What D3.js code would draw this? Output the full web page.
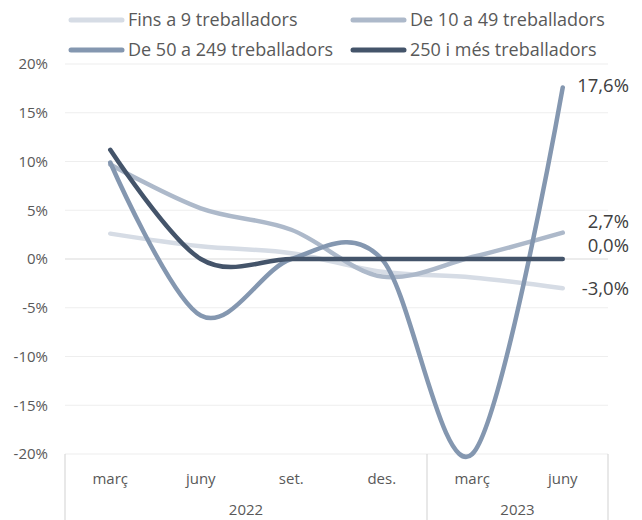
<!DOCTYPE html>
<html>
<head>
<meta charset="utf-8">
<script src="https://cdn.jsdelivr.net/npm/d3@7"></script>
<style>
  body { margin: 0; background: #fff; }
  svg text { font-family: "Open Sans", Lato, sans-serif; }
</style>
</head>
<body>
<script>
// categories and series
var months = ["març", "juny", "set.", "des.", "març", "juny"];
var years = ["2022", "2022", "2022", "2022", "2023", "2023"];
var yTicks = [-20, -15, -10, -5, 0, 5, 10, 15, 20];

var seriesNames = ["Fins a 9 treballadors", "De 10 a 49 treballadors", "De 50 a 249 treballadors", "250 i més treballadors"];
var fins9 = [2.6, 1.3, 0.6, -1.3, -1.9, -3.0];
var de10a49 = [9.7, 5.2, 3.0, -1.8, 0.2, 2.7];
var de50a249 = [9.9, -5.8, 0.0, 0.0, -20.0, 17.6];
var mes250 = [11.2, 0.0, 0.0, 0.0, 0.0, 0.0];
var colors = ["#d6dce5", "#adb9ca", "#8497b0", "#44546a"];

var series = [fins9, de10a49, de50a249, mes250];

var svgWidth = 642;
var svgHeight = 520;

var svg = d3.select("body")
    .append("svg")
    .attr("width", svgWidth)
    .attr("height", svgHeight);

// scales
var x = d3.scaleBand()
    .domain(d3.range(months.length))
    .range([65, 608]);

var y = d3.scaleLinear()
    .domain([-20, 20])
    .range([454, 64]);

// catalan style: comma decimal, plain hyphen for negatives
var locale = d3.formatLocale({decimal: ",", thousands: ".", grouping: [3], currency: ["", "€"], minus: "-"});
var fmt = d => locale.format(".1f")(d) + "%";

// gridlines
svg.append("g")
    .selectAll("line")
    .data(yTicks)
    .enter()
    .append("line")
    .attr("x1", 65)
    .attr("x2", 608)
    .attr("y1", d => y(d))
    .attr("y2", d => y(d))
    .attr("stroke", d => d === 0 ? "#d9d9d9" : "#eeeeee")
    .attr("stroke-width", 1.2);

// y tick labels
svg.append("g")
    .selectAll("text")
    .data(yTicks)
    .enter()
    .append("text")
    .attr("x", 48)
    .attr("y", d => y(d))
    .attr("dy", "0.35em")
    .attr("text-anchor", "end")
    .attr("font-size", "15px")
    .attr("fill", "#595959")
    .text(d => d + "%");

// category box: vertical separators
var seps = [0, 4, 6];
svg.append("g")
    .selectAll("line")
    .data(seps)
    .enter()
    .append("line")
    .attr("x1", d => d < 6 ? x(d) : x(5) + x.bandwidth())
    .attr("x2", d => d < 6 ? x(d) : x(5) + x.bandwidth())
    .attr("y1", y(-20))
    .attr("y2", svgHeight)
    .attr("stroke", "#d9d9d9")
    .attr("stroke-width", 1.2);

// month labels
svg.append("g")
    .selectAll("text")
    .data(months)
    .enter()
    .append("text")
    .attr("x", (d, i) => x(i) + x.bandwidth() / 2)
    .attr("y", 479)
    .attr("dy", "0.35em")
    .attr("text-anchor", "middle")
    .attr("font-size", "15px")
    .attr("fill", "#595959")
    .text(d => d);

// year labels
var yearGroups = d3.groups(d3.range(years.length), i => years[i]);
svg.append("g")
    .selectAll("text")
    .data(yearGroups)
    .enter()
    .append("text")
    .attr("x", d => (x(d[1][0]) + x(d[1][d[1].length - 1]) + x.bandwidth()) / 2)
    .attr("y", 510)
    .attr("dy", "0.35em")
    .attr("text-anchor", "middle")
    .attr("font-size", "15px")
    .attr("fill", "#595959")
    .text(d => d[0]);

// lines
var line = d3.line()
    .x((d, i) => x(i) + x.bandwidth() / 2)
    .y(d => y(d))
    .curve(d3.curveCardinal.tension(0));

svg.append("g")
    .selectAll("path")
    .data(series)
    .enter()
    .append("path")
    .attr("d", d => line(d))
    .attr("fill", "none")
    .attr("stroke", (d, i) => colors[i])
    .attr("stroke-width", 4.5)
    .attr("stroke-linecap", "round")
    .attr("stroke-linejoin", "round");

// end labels
var labelOffset = [0, -11, -2, -13];
svg.append("g")
    .selectAll("text")
    .data(series)
    .enter()
    .append("text")
    .attr("x", 629)
    .attr("y", (d, i) => y(d[d.length - 1]) + labelOffset[i])
    .attr("dy", "0.35em")
    .attr("text-anchor", "end")
    .attr("font-size", "18.5px")
    .attr("fill", "#404040")
    .text(d => fmt(d[d.length - 1]));

// legend
var legendPos = [[69, 20], [351, 20], [69, 50], [351, 50]];
var legend = svg.append("g")
    .selectAll("g")
    .data(seriesNames)
    .enter()
    .append("g")
    .attr("transform", (d, i) => `translate(${legendPos[i][0]}, ${legendPos[i][1]})`);

legend.append("line")
    .attr("x1", 2)
    .attr("x2", 53)
    .attr("stroke", (d, i) => colors[i])
    .attr("stroke-width", 5)
    .attr("stroke-linecap", "round");

legend.append("text")
    .attr("x", 59)
    .attr("dy", "0.35em")
    .attr("font-size", "18px")
    .attr("fill", "#595959")
    .text(d => d);
</script>
</body>
</html>
